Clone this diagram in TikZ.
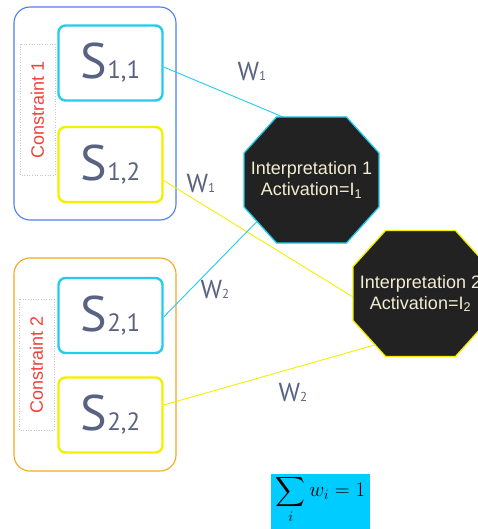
\documentclass[tikz,border=0pt]{standalone}
\usepackage{exscale}
\usepackage{fontspec}
\setmainfont{Liberation Sans}
\newfontfamily\gill{PT Sans}
\usetikzlibrary{calc}
\definecolor{cyanb}{HTML}{22CCEE}
\definecolor{yellowb}{HTML}{F2F000}
\definecolor{blueb}{HTML}{4D7EF0}
\definecolor{orangeb}{HTML}{F5A623}
\definecolor{octfill}{HTML}{222222}
\definecolor{cream}{HTML}{F2EDD2}
\definecolor{labgrey}{HTML}{5A6282}
\definecolor{conred}{HTML}{F0403A}
\definecolor{sumcyan}{HTML}{00CCFF}
\newcommand{\octo}[2]{% center, colour
  \filldraw[fill=octfill,draw=#2,line width=1.3pt]
    ($(#1)+(-35,-63)$) -- ($(#1)+(35,-63)$) -- ($(#1)+(67.5,-27)$) -- ($(#1)+(67.5,27)$)
    -- ($(#1)+(35,63)$) -- ($(#1)+(-35,63)$) -- ($(#1)+(-67.5,27)$) -- ($(#1)+(-67.5,-27)$) -- cycle;}
\newcommand{\Slab}[1]{{\gill\fontsize{50}{50}\selectfont S\fontsize{25}{25}\selectfont #1}}
\newcommand{\Wlab}[1]{{\gill\fontsize{26}{26}\selectfont W\fontsize{13}{13}\selectfont #1}}
\tikzset{
  outerbox/.style={draw, line width=1.1pt, rounded corners=16pt, minimum width=162pt, minimum height=213pt, inner sep=0pt},
  sbox/.style={draw, line width=2.4pt, rounded corners=7pt, minimum width=104pt, minimum height=75pt, inner sep=0pt, text=labgrey},
  labbox/.style={draw=gray!45, dotted, line width=0.6pt, rotate=90, minimum width=131pt, minimum height=35pt, inner sep=0pt, text=conred, font=\fontsize{18}{21}\selectfont},
  itext/.style={text=cream, align=center, font=\fontsize{18}{21}\selectfont, inner sep=0pt},
  wlab/.style={text=labgrey, inner sep=0pt},
  conn/.style={line width=0.9pt}
}
\begin{document}
\begin{tikzpicture}[x=1pt,y=-1pt]
\useasboundingbox (0,0) rectangle (478,529);
\clip (0,0) rectangle (478,529);

% constraint groups
\node[outerbox, draw=blueb] (c1) at (95,113.5) {};
\node[outerbox, draw=orangeb] (c2) at (95,364.5) {};
\node[labbox] (l1) at (37.5,109.5) {Constraint 1};
\node[labbox] (l2) at (36.5,364.5) {Constraint 2};

\node[sbox, draw=cyanb] (s11) at (110.5,63) {\Slab{1,1}};
\node[sbox, draw=yellowb] (s12) at (110.5,164.5) {\Slab{1,2}};
\node[sbox, draw=cyanb] (s21) at (110.5,315.5) {\Slab{2,1}};
\node[sbox, draw=yellowb] (s22) at (110.5,415) {\Slab{2,2}};

% interpretation octagons
\coordinate (o1) at (311.5,180);
\coordinate (o2) at (420.5,293.5);
\coordinate (o1a) at ($(o1)+(-28.5,-63)$);
\coordinate (o1b) at ($(o1)+(-54.5,41.4)$);
\coordinate (o2a) at ($(o2)+(-67.5,3.5)$);
\coordinate (o2b) at ($(o2)+(-45.5,51.4)$);

% connectors
\draw[conn, cyanb] ($(s11.east)+(0,4)$) -- (o1a);
\draw[conn, yellowb] ($(s12.east)+(0,16)$) -- (o2a);
\draw[conn, cyanb] ($(s21.east)+(0,1.5)$) -- (o1b);
\draw[conn, yellowb] ($(s22.east)+(0,-10)$) -- (o2b);

\octo{o1}{cyanb}
\octo{o2}{yellowb}
\node[itext] (i1) at (o1) {Interpretation 1\\Activation=I\textsubscript{1}};
\node[itext] (i2) at (o2) {Interpretation 2\\Activation=I\textsubscript{2}};

% weights
\node[wlab] (w1a) at (252,72) {\Wlab{1}};
\node[wlab] (w1b) at (201,184) {\Wlab{1}};
\node[wlab] (w2a) at (215,290) {\Wlab{2}};
\node[wlab] (w2b) at (293,393) {\Wlab{2}};

% sum
\node[fill=sumcyan, minimum width=99pt, minimum height=57pt, inner sep=0pt] (sum) at (320.5,502.5) {};
\node[inner sep=0pt] (sumtext) at (320.5,499)
  {\fontsize{22}{26}\selectfont $\displaystyle\sum_i w_i = 1$};
\end{tikzpicture}
\end{document}
